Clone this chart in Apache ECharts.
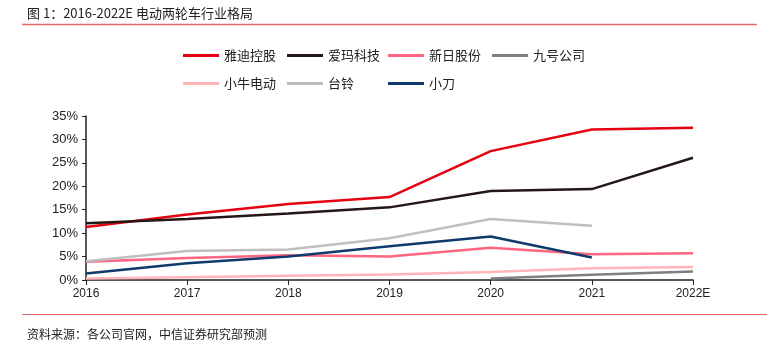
<!DOCTYPE html>
<html>
<head>
<meta charset="utf-8">
<script src="https://cdn.jsdelivr.net/npm/echarts@6/dist/echarts.min.js"></script>
<style>
	html, body { margin: 0; padding: 0; background: #fff; }
	#chart { width: 773px; height: 351px; }
</style>
</head>
<body>
<div id="chart"></div>
<script>
var years = ['2016', '2017', '2018', '2019', '2020', '2021', '2022E'];
var yadi = [11.3, 14.0, 16.2, 17.7, 27.5, 32.1, 32.5];
var aima = [12.1, 13.0, 14.2, 15.5, 19.0, 19.4, 26.1];
var xinri = [3.9, 4.7, 5.3, 5.0, 6.9, 5.5, 5.7];
var jiuhao = [null, null, null, null, 0.3, 1.1, 1.8];
var niu = [0.3, 0.6, 0.9, 1.2, 1.7, 2.5, 2.8];
var tailing = [4.0, 6.2, 6.5, 8.9, 13.0, 11.6, null];
var xiaodao = [1.4, 3.6, 5.0, 7.2, 9.3, 4.8, null];

var myChart = echarts.init(document.getElementById('chart'));

function line(name, data, color) {
	return {
		name: name,
		type: 'line',
		data: data,
		symbol: 'none',
		lineStyle: { color: color, width: 2.5 },
		itemStyle: { color: color },
		animation: false
	};
}

// 每列一个图例，保持网格对齐
function legendCol(items, left) {
	return {
		data: items,
		orient: 'vertical',
		left: left,
		top: 49,
		padding: 0,
		itemWidth: 36,
		itemHeight: 3,
		itemGap: 15,
		icon: 'rect',
		textStyle: { color: '#222', fontSize: 13, fontFamily: 'Noto Sans CJK SC' }
	};
}

var option = {
	backgroundColor: '#fff',
	title: [{
		text: '图 1：2016-2022E 电动两轮车行业格局',
		left: 22,
		top: 2,
		textStyle: { color: '#222', fontSize: 13, fontWeight: 'normal', fontFamily: 'Noto Sans CJK SC' }
	}, {
		text: '资料来源：各公司官网，中信证券研究部预测',
		left: 22,
		top: 323,
		textStyle: { color: '#222', fontSize: 12, fontWeight: 'normal', fontFamily: 'Noto Sans CJK SC' }
	}],
	graphic: [{
		type: 'line',
		shape: { x1: 22, y1: 24.5, x2: 757, y2: 24.5 },
		style: { stroke: '#E8676B', lineWidth: 1.5 }
	}, {
		type: 'line',
		shape: { x1: 22, y1: 314.5, x2: 767, y2: 314.5 },
		style: { stroke: '#E8676B', lineWidth: 1.2 }
	}],
	legend: [
		legendCol(['雅迪控股', '小牛电动'], 183),
		legendCol(['爱玛科技', '台铃'], 287),
		legendCol(['新日股份', '小刀'], 388),
		legendCol(['九号公司'], 492)
	],
	grid: { left: 86, right: 80, top: 116, bottom: 71 },
	xAxis: {
		type: 'category',
		data: years,
		boundaryGap: false,
		axisLine: { lineStyle: { color: '#222', width: 1.5 } },
		axisTick: { show: true, alignWithLabel: true, length: 5, lineStyle: { color: '#222' } },
		axisLabel: { color: '#222', fontSize: 12, margin: 8, fontFamily: 'Liberation Sans' }
	},
	yAxis: {
		type: 'value',
		min: 0,
		max: 35,
		interval: 5,
		axisLine: { show: true, lineStyle: { color: '#222', width: 1.5 } },
		axisTick: { show: true, length: 4, lineStyle: { color: '#222' } },
		splitLine: { show: false },
		axisLabel: {
			color: '#222', fontSize: 13, margin: 8, fontFamily: 'Liberation Sans',
			formatter: function(v) { return v + '%'; }
		}
	},
	series: [
		line('雅迪控股', yadi, '#E60012'),
		line('爱玛科技', aima, '#231815'),
		line('新日股份', xinri, '#FF6480'),
		line('九号公司', jiuhao, '#7F7F7F'),
		line('小牛电动', niu, '#FFB4B8'),
		line('台铃', tailing, '#BFBFBF'),
		line('小刀', xiaodao, '#0E3B6C')
	]
};
myChart.setOption(option);
</script>
</body>
</html>
